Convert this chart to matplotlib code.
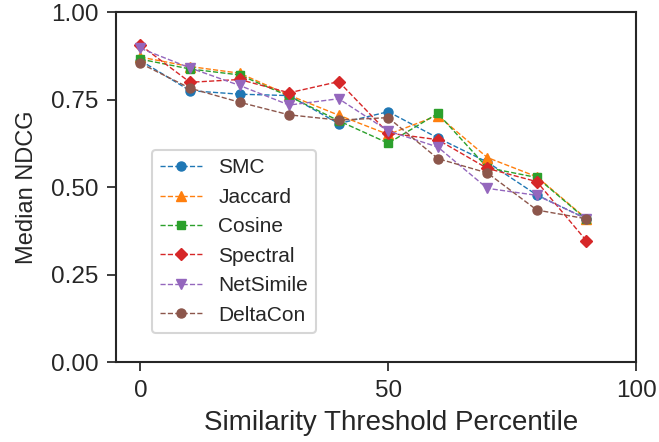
import matplotlib
matplotlib.use("Agg")
import matplotlib.pyplot as plt
import seaborn as sns

x = [0, 10, 20, 30, 40, 50, 60, 70, 80, 90]
smc = [0.862, 0.776, 0.766, 0.762, 0.682, 0.716, 0.641, 0.572, 0.478, 0.410]
jaccard = [0.872, 0.845, 0.826, 0.763, 0.706, 0.651, 0.705, 0.585, 0.530, 0.410]
cosine = [0.866, 0.838, 0.821, 0.760, 0.690, 0.626, 0.711, 0.556, 0.528, 0.408]
spectral = [0.906, 0.800, 0.808, 0.770, 0.802, 0.655, 0.636, 0.554, 0.516, 0.347]
netsimile = [0.897, 0.841, 0.791, 0.735, 0.753, 0.661, 0.615, 0.497, 0.477, 0.410]
deltacon = [0.854, 0.783, 0.743, 0.707, 0.692, 0.699, 0.582, 0.541, 0.435, 0.410]

series = [
    ("SMC", smc, "o"),
    ("Jaccard", jaccard, "^"),
    ("Cosine", cosine, "s"),
    ("Spectral", spectral, "D"),
    ("NetSimile", netsimile, "v"),
    ("DeltaCon", deltacon, "o"),
]
colors = ["#1f77b4", "#ff7f0e", "#2ca02c", "#d62728", "#9467bd", "#8c564b"]

sns.set_theme(style="ticks")
plt.rcParams['font.family'] = ['Liberation Sans', 'DejaVu Sans']

fig = plt.figure(figsize=(6.59, 4.42), dpi=100)
ax = fig.add_axes([0.1756, 0.1803, 0.7895, 0.7919])

for (name, vals, mk), c in zip(series, colors):
    ms = 6 if mk in ("D", "s") else 6.5
    ax.plot(x, vals, linestyle="--", marker=mk, color=c, label=name,
            linewidth=1.0, markersize=ms)

ax.set_xlim(-5, 100)
ax.set_ylim(0, 1.0)
ax.set_xticks([0, 50, 100])
ax.set_yticks([0, 0.25, 0.5, 0.75, 1.0])
ax.set_yticklabels(["0.00", "0.25", "0.50", "0.75", "1.00"])
ax.tick_params(labelsize=17.5, length=6.5, width=1.25, pad=6,
               color=".15", labelcolor=".15")
for s in ax.spines.values():
    s.set_linewidth(1.5)
    s.set_color(".15")

ax.set_xlabel("Similarity Threshold Percentile", fontsize=20, color=".15")
ax.xaxis.set_label_coords(0.529, -0.135)
ax.set_ylabel("Median NDCG", fontsize=17, color=".15", labelpad=9)

leg = ax.legend(loc="lower left", bbox_to_anchor=(0.069, 0.084), borderaxespad=0,
                fontsize=15, frameon=True, handlelength=2.0,
                labelspacing=0.5, fancybox=True)
leg.get_frame().set_edgecolor("#cccccc")
leg.get_frame().set_linewidth(1.5)

fig.savefig("out.png", dpi=100)
